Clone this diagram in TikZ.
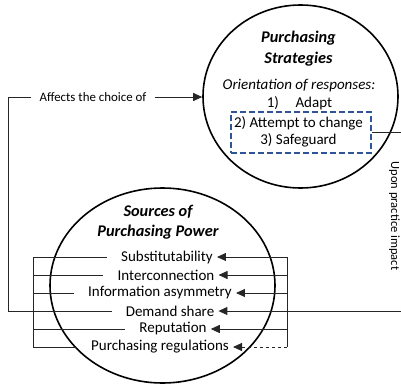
\documentclass[tikz,border=0pt]{standalone}
\usepackage{fontspec}
\setmainfont{Carlito}
\usetikzlibrary{shapes.geometric,arrows.meta}
\definecolor{boxblue}{RGB}{47,85,151}
\begin{document}
\begin{tikzpicture}
	[x=1pt,y=-1pt,
	every node/.style={inner sep=0pt,font=\fontsize{15}{18}\selectfont},
	bubble/.style={draw,ellipse,line width=1.6pt},
	title/.style={font=\fontsize{16.3}{19}\selectfont\bfseries\itshape},
	dbox/.style={draw=boxblue,line width=1.4pt,dash pattern=on 6pt off 3pt},
	link/.style={draw=black!85,line width=0.9pt},
	arr/.style={link,-{Triangle[length=9pt,width=8pt]}}]
	\useasboundingbox (0,0) rectangle (401,385);
	% the two bubbles
	\node[bubble,minimum width=195pt,minimum height=183pt] (strat) at (300.5,96.5) {};
	\node[bubble,minimum width=225pt,minimum height=195pt] (power) at (162.5,285.5) {};
	% purchasing strategies
	\node[title] (stitle1) at (298.5,38) {Purchasing};
	\node[title] (stitle2) at (298.5,59) {Strategies};
	\node[font=\fontsize{15}{18}\selectfont\itshape] (orient) at (299,86) {Orientation of responses:};
	\node (adapt) at (299.5,103) {1)\hspace{1.1em}Adapt};
	\node (change) at (298.5,123) {2) Attempt to change};
	\node (guard) at (298.5,140) {3) Safeguard};
	\node[dbox,minimum width=140pt,minimum height=41pt] (box) at (301,132.5) {};
	% sources of purchasing power
	\node[title] (ptitle1) at (158,212) {Sources of};
	\node[title] (ptitle2) at (158,232) {Purchasing Power};
	\foreach \name/\x/\y/\txt in {subst/167/257/Substitutability,
		inter/166/275/Interconnection,
		info/160/293/Information asymmetry,
		share/170/311/Demand share,
		rep/173/329/Reputation,
		reg/160/347/Purchasing regulations}
		\node (\name) at (\x,\y) {\txt};
	% brackets
	\coordinate (lbrk) at (33,0);
	\coordinate (rbrk) at (287,0);
	\coordinate (redge) at (401,0);
	\coordinate (lcorner) at (8,97);
	\draw[link] (subst.west -| lbrk) -- (reg.west -| lbrk);
	\draw[link] (subst.east -| rbrk) -- (reg.east -| rbrk);
	\foreach \n in {subst,inter,info,share,rep,reg}
		\draw[link] (\n.west -| lbrk) -- ([xshift=-14pt]\n.west);
	\foreach \n in {subst,inter,info,rep}
		\draw[arr] (\n.east -| rbrk) -- ([xshift=4pt]\n.east);
	\draw[arr,dashed] (reg.east -| rbrk) -- ([xshift=4pt]reg.east);
	\draw[arr] (share.east -| redge) -- ([xshift=4pt]share.east);
	% links between the bubbles
	\node[inner xsep=8pt,font=\fontsize{12.9}{15}\selectfont] (affects) at (93,97) {Affects the choice of};
	\draw[link] (affects.west) -- (affects.west -| lcorner) |- ([xshift=-14pt]share.west);
	\draw[arr] (affects.east) -- (affects.east -| strat.west);
	\draw[link] (box.east) -- (box.east -| redge);
	\node[rotate=-90,anchor=base,font=\fontsize{12.5}{15}\selectfont] (impact) at (391,216) {Upon practice impact};
\end{tikzpicture}
\end{document}
